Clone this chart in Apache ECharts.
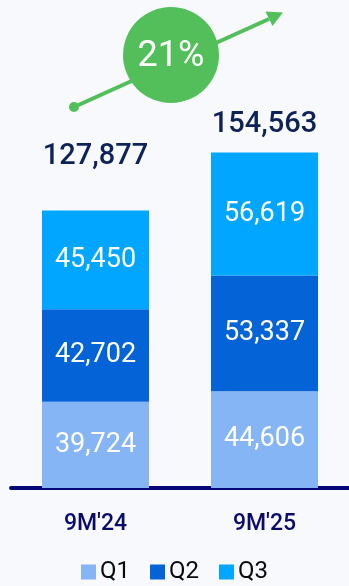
<!DOCTYPE html>
<html>
<head>
<meta charset="utf-8">
<script src="https://cdn.jsdelivr.net/npm/echarts@6/dist/echarts.min.js"></script>
<style>
  html, body { margin: 0; padding: 0; background: #f8f9fd; }
  #chart { width: 349px; height: 586px; }
</style>
</head>
<body>
<div id="chart"></div>
<script>
// Nine-month totals split by quarter
const periods = ["9M'24", "9M'25"];
const q1 = [39724, 44606];
const q2 = [42702, 53337];
const q3 = [45450, 56619];
const totals = [127877, 154563];
const growthLabel = '21%';

const fmt = v => v.toLocaleString('en-US');
const FONT = 'Roboto';

const colors = { Q1: '#85b5f5', Q2: '#0563d8', Q3: '#00a6ff' };
const totalLift = [-34, -8];

function stackSeries(name, values) {
  return {
    name: name,
    type: 'bar',
    stack: 'total',
    barWidth: 107,
    data: values,
    itemStyle: { color: colors[name] },
    label: {
      show: true,
      position: 'inside',
      color: '#ffffff',
      fontFamily: FONT,
      fontSize: 27,
      formatter: p => fmt(p.value)
    },
    emphasis: { disabled: true }
  };
}

const chart = echarts.init(document.getElementById('chart'), null, { renderer: 'canvas' });

chart.setOption({
  backgroundColor: '#f8f9fd',
  animation: false,
  grid: { left: 11, right: -2, top: 54, bottom: 98 },
  legend: {
    data: ['Q1', 'Q2', 'Q3'],
    bottom: -3,
    left: 'center',
    itemWidth: 15,
    itemHeight: 15,
    itemGap: 20,
    icon: 'rect',
    textStyle: { fontFamily: FONT, fontSize: 24, color: '#0a0a0a', padding: [0, 0, 0, -1] }
  },
  xAxis: {
    type: 'category',
    data: periods,
    axisTick: { show: false },
    axisLine: { lineStyle: { color: '#06067a', width: 4, cap: 'round' } },
    axisLabel: { fontFamily: FONT, fontSize: 23, color: '#0b0b6b', margin: 25, fontWeight: 500 }
  },
  yAxis: {
    type: 'value',
    min: 0,
    max: 200000,
    show: false,
    splitLine: { show: false }
  },
  series: [
    stackSeries('Q1', q1),
    stackSeries('Q2', q2),
    stackSeries('Q3', q3),
    {
      name: 'total',
      type: 'scatter',
      symbolSize: 0,
      itemStyle: { opacity: 1 },
      data: totals.map((v, i) => ({
        value: v,
        label: { offset: [0, totalLift[i]] }
      })),
      label: {
        show: true,
        position: 'top',
        color: '#0c2258',
        fontFamily: FONT,
        fontSize: 29,
        fontWeight: 500,
        formatter: p => fmt(p.value)
      },
      emphasis: { disabled: true }
    }
  ],
  graphic: [
    {
      type: 'line',
      shape: { x1: 74, y1: 107, x2: 269, y2: 19 },
      style: { stroke: '#52bf5a', lineWidth: 4 }
    },
    {
      type: 'polygon',
      shape: { points: [[283, 12.5], [272.5, 26], [265.5, 11.5]] },
      style: { fill: '#52bf5a' }
    },
    {
      type: 'circle',
      shape: { cx: 74, cy: 107, r: 5 },
      style: { fill: '#52bf5a' }
    },
    {
      type: 'circle',
      shape: { cx: 171, cy: 55, r: 48 },
      style: { fill: '#52bf5a' }
    },
    {
      type: 'text',
      x: 171,
      y: 57,
      style: {
        text: growthLabel,
        fill: '#ffffff',
        font: '36px ' + FONT,
        textAlign: 'center',
        textVerticalAlign: 'middle'
      }
    }
  ]
});
</script>
</body>
</html>
